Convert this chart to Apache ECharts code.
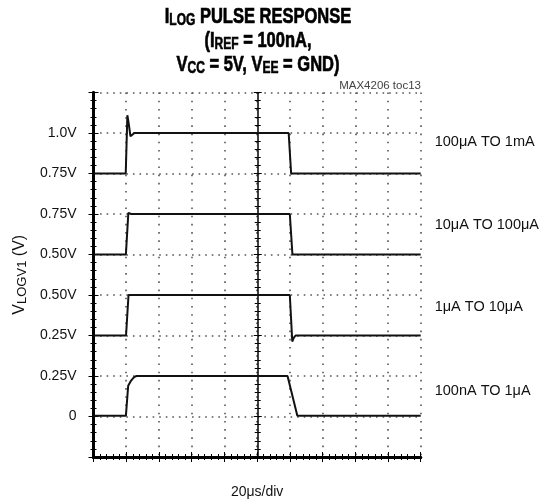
<!DOCTYPE html>
<html>
<head>
<meta charset="utf-8">
<script src="https://cdn.jsdelivr.net/npm/echarts@6/dist/echarts.min.js"></script>
<style>
html,body{margin:0;padding:0;background:#fff;}
#c{width:542px;height:504px;}
</style>
</head>
<body>
<div id="c"></div>
<script>
// ---- data ----
// y axis in scope divisions (0..9), 0.25 V per division; each trace shifted by an offset in divisions
var leftTickLabels = ['', '0', '0.25V', '0.25V', '0.50V', '0.50V', '0.75V', '0.75V', '1.0V', ''];
var traceNames = ['100\u03bcA TO 1mA', '10\u03bcA TO 100\u03bcA', '1\u03bcA TO 10\u03bcA', '100nA TO 1\u03bcA'];
var traceOffsets = [4, 3, 2, 1];             // divisions
var traceLabelDiv = [7.77, 5.72, 3.70, 1.63]; // where each name sits on the right
var voltsPerDiv = 0.25;

// time in microseconds, value in volts
var t1 = [0, 19.7, 20.7, 21.5, 22.6, 23.6, 25, 119.3, 120.8, 200];
var v1 = [0.75, 0.75, 1.11, 1.06, 0.98, 0.99, 1.0, 1.0, 0.75, 0.75];

var t2 = [0, 19.8, 21.3, 22.0, 23.0, 120.0, 121.6, 200];
var v2 = [0.50, 0.50, 0.757, 0.752, 0.75, 0.75, 0.50, 0.50];

var t3 = [0, 19.9, 21.4, 120.0, 121.5, 122.4, 123.5, 200];
var v3 = [0.25, 0.25, 0.50, 0.50, 0.213, 0.235, 0.25, 0.25];

var t4 = [0, 19.8, 21.2, 23.0, 24.8, 26.3, 118.6, 119.6, 124.6, 200];
var v4 = [0.004, 0.004, 0.19, 0.222, 0.243, 0.25, 0.25, 0.24, 0.004, 0.004];

var times = [t1, t2, t3, t4];
var volts = [v1, v2, v3, v4];

// ---- chart ----
var chart = echarts.init(document.getElementById('c'), null, {renderer: 'canvas'});
var FONT = 'Liberation Sans, Arial, sans-serif';

function makeSeries(i) {
  var data = times[i].map(function (t, k) {
    return [t, traceOffsets[i] + volts[i][k] / voltsPerDiv];
  });
  return {
    type: 'line', name: traceNames[i], data: data, xAxisIndex: 0, yAxisIndex: 0,
    showSymbol: false, symbol: 'none', smooth: false,
    lineStyle: {color: '#111', width: 2}, z: 5, animation: false
  };
}

var frameLine = {show: true, lineStyle: {color: '#000', width: 3}};
var tickIn = {show: true, inside: true, length: 5, lineStyle: {color: '#000', width: 1}};
var minorIn = {show: true, splitNumber: 5, length: 3, lineStyle: {color: '#000', width: 1}};

var titleRich = {
  b: {fontFamily: FONT, fontWeight: 'bold', fontSize: 22, lineHeight: 24, fill: '#000', verticalAlign: 'middle',
      stroke: '#000', lineWidth: 0.7},
  s: {fontFamily: FONT, fontWeight: 'bold', fontSize: 16, lineHeight: 16, fill: '#000', verticalAlign: 'bottom',
      stroke: '#000', lineWidth: 0.6}
};
function titleLine(txt, y) {
  return {
    type: 'text', x: 258, y: y, scaleX: 0.75, z: 10,
    style: {text: txt, rich: titleRich, textAlign: 'center', textVerticalAlign: 'middle', fill: '#000',
            font: 'bold 22px ' + FONT}
  };
}

var option = {
  backgroundColor: '#fff',
  animation: false,
  graphic: [
    titleLine('{b|I}{s|LOG}{b| PULSE RESPONSE}', 17),
    titleLine('{b|(I}{s|REF}{b| = 100nA,}', 41),
    titleLine('{b|V}{s|CC}{b| = 5V, V}{s|EE}{b| = GND)}', 65),
    {
      type: 'text', x: 421, y: 86, z: 10,
      style: {text: 'MAX4206 toc13', font: '11.5px ' + FONT, fill: '#444', textAlign: 'right', textVerticalAlign: 'middle'}
    }
  ],
  grid: {left: 93.5, right: 120, top: 92.5, bottom: 42, containLabel: false},
  xAxis: [{
    type: 'value', position: 'bottom', min: 0, max: 200, interval: 20,
    axisLine: frameLine, axisTick: tickIn, minorTick: minorIn,
    axisLabel: {show: false},
    splitLine: {show: true, lineStyle: {color: '#555', width: 1.6, type: [1.6, 6.61]}},
    name: '20\u03bcs/div', nameLocation: 'middle', nameGap: 28,
    nameTextStyle: {fontFamily: FONT, fontSize: 14, color: '#111'}
  }, {
    type: 'value', position: 'top', min: 0, max: 200, interval: 20,
    axisLine: frameLine, axisTick: tickIn, minorTick: minorIn,
    axisLabel: {show: false}, splitLine: {show: false}
  }],
  yAxis: [{
    type: 'value', position: 'left', min: 0, max: 9, interval: 1,
    axisLine: frameLine, axisTick: tickIn, minorTick: minorIn,
    axisLabel: {
      show: true, margin: 17, fontFamily: FONT, fontSize: 14, color: '#111',
      formatter: function (v) { return leftTickLabels[Math.round(v)] || ''; }
    },
    splitLine: {show: true, lineStyle: {color: '#555', width: 1.6, type: [1.6, 4.97]}},
    name: '{m|V}{s|LOGV1}{m| (V)}', nameLocation: 'middle', nameGap: 57, nameRotate: 90,
    nameTextStyle: {
      rich: {
        m: {fontFamily: FONT, fontSize: 16, color: '#111', lineHeight: 18, verticalAlign: 'middle'},
        s: {fontFamily: FONT, fontSize: 13, color: '#111', lineHeight: 13, verticalAlign: 'bottom'}
      }
    }
  }, {
    type: 'value', position: 'right', min: 0, max: 9, interval: 1,
    axisLine: frameLine, axisTick: tickIn, minorTick: minorIn,
    axisLabel: {
      show: true, margin: 14, fontFamily: FONT, fontSize: 14.5, color: '#111',
      customValues: traceLabelDiv,
      formatter: function (v) {
        var i = traceLabelDiv.indexOf(v);
        return i >= 0 ? traceNames[i] : '';
      }
    },
    splitLine: {show: false}
  }, {
    // centre graticule line, ticks to the right
    type: 'value', position: 'left', offset: -164.25, min: 0, max: 9, interval: 1,
    axisLine: {show: true, lineStyle: {color: '#000', width: 1.5}},
    axisTick: {show: true, inside: true, length: 4, lineStyle: {color: '#000', width: 1}},
    minorTick: {show: true, splitNumber: 5, length: 3, lineStyle: {color: '#000', width: 1}},
    axisLabel: {show: false}, splitLine: {show: false}
  }, {
    // centre graticule line, ticks to the left
    type: 'value', position: 'left', offset: -164.25, min: 0, max: 9, interval: 1,
    axisLine: {show: false},
    axisTick: {show: true, inside: false, length: 4, lineStyle: {color: '#000', width: 1}},
    minorTick: {show: true, splitNumber: 5, length: 3, lineStyle: {color: '#000', width: 1}},
    axisLabel: {show: false}, splitLine: {show: false}
  }],
  series: [makeSeries(0), makeSeries(1), makeSeries(2), makeSeries(3)]
};
chart.setOption(option);
</script>
</body>
</html>
